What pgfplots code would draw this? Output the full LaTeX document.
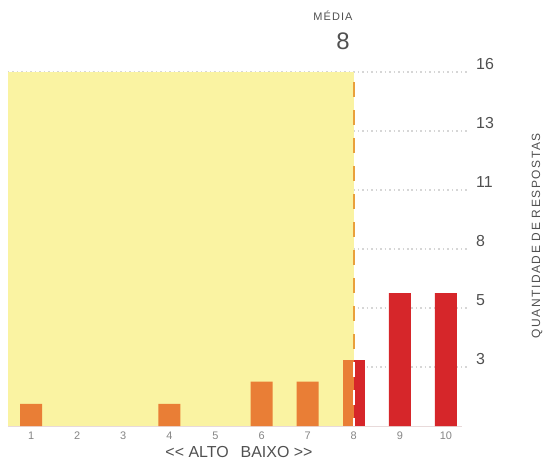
\documentclass[border=0pt]{standalone}
\usepackage{fontspec}
\setmainfont{Liberation Sans}
\usepackage{pgfplots}
\pgfplotsset{compat=1.18}
\definecolor{bgyellow}{HTML}{FAF3A2}
\definecolor{barorange}{HTML}{E97E36}
\definecolor{barred}{HTML}{D6262A}
\definecolor{meanline}{HTML}{E9A03C}
\definecolor{gridgray}{HTML}{D6D6D6}
\definecolor{labelgray}{HTML}{505050}
\definecolor{tickgray}{HTML}{858585}
\definecolor{basegray}{HTML}{E8DADA}
\begin{document}
\begin{tikzpicture}
\begin{axis}[
  at={(0,0)}, anchor=south west,
  scale only axis, width=461bp, height=354bp,
  xmin=0.5, xmax=10.5, ymin=0, ymax=16,
  axis line style={draw=none},
  major tick length=0pt,
  xtick={1,2,3,4,5,6,7,8,9,10},
  ytick={2.6667,5.3333,8,10.6667,13.3333,16},
  yticklabels={3,5,8,11,13,16},
  yticklabel pos=right,
  ymajorgrids,
  grid style={gridgray, line width=1.2pt, dash pattern=on 1.5pt off 3pt},
  /pgf/number format/assume math mode=true,
  xticklabel style={font=\fontsize{11}{13}\selectfont, text=tickgray, yshift=-2bp},
  yticklabel style={font=\fontsize{16}{18}\selectfont, text=labelgray, anchor=base west, inner sep=0pt, xshift=7bp, yshift=2bp},
  clip=false,
]
% yellow zone below the mean
\addplot[fill=bgyellow, draw=none] coordinates {(0.5,0) (0.5,16) (8,16) (8,0)} -- cycle;
\draw[basegray, line width=0.8pt] (axis cs:0.5,0) -- (axis cs:10.35,0);
% bars
\addplot[ybar, bar width=0.477, bar shift=0pt, fill=barorange, draw=none] coordinates {(1,1) (4,1) (6,2) (7,2)};
\addplot[ybar, bar width=0.2385, bar shift=0pt, fill=barorange, draw=none] coordinates {(7.88075,3)};
\addplot[ybar, bar width=0.2385, bar shift=0pt, fill=barred, draw=none] coordinates {(8.11925,3)};
\addplot[ybar, bar width=0.477, bar shift=0pt, fill=barred, draw=none] coordinates {(9,6) (10,6)};
% mean line
\addplot[meanline, line width=2.5pt, dash pattern=on 15bp off 13bp] coordinates {(8,15.55) (8,3)};
\addplot[white, line width=2.5pt, dash pattern=on 15bp off 13bp, dash phase=25.4bp] coordinates {(8,3) (8,0)};
% annotations
\node[anchor=base east, inner sep=0pt, xshift=-4bp, yshift=22bp, font=\fontsize{24}{27}\selectfont, text=labelgray] at (axis cs:8,16) {8};
\node[anchor=base east, inner sep=0pt, xshift=-1bp, yshift=51bp, font=\fontsize{11}{13}\selectfont\addfontfeatures{LetterSpace=10}, text=labelgray] at (axis cs:8,16) {MÉDIA};
\node[xshift=68bp, rotate=90, anchor=center, inner sep=0pt, font=\fontsize{12}{14}\selectfont\addfontfeatures{LetterSpace=13}, text=labelgray] at (rel axis cs:1,0.537) {QUANTIDADE DE RESPOSTAS};
\node[anchor=center, inner sep=0pt, yshift=-26bp, font=\fontsize{16}{19}\selectfont, text=labelgray] at (rel axis cs:0.501,0) {\textless\kern0pt\textless\ ALTO\hspace{12bp}BAIXO \textgreater\kern0pt\textgreater};
\end{axis}
\pgfresetboundingbox
\useasboundingbox (-8bp,-45bp) rectangle (536bp,426bp);
\end{tikzpicture}
\end{document}
